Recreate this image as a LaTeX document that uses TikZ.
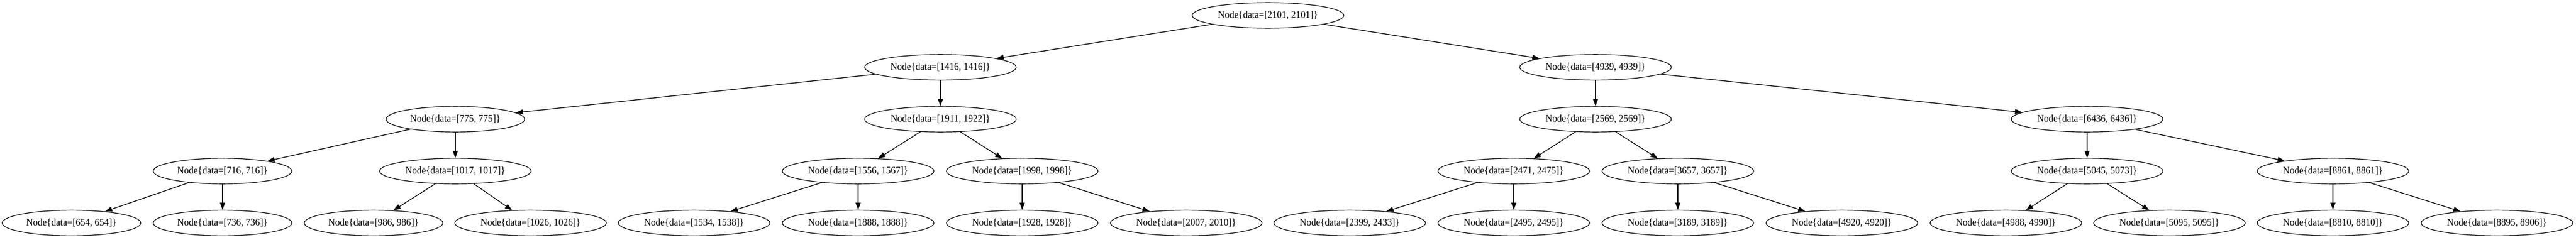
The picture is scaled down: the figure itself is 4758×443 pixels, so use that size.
\documentclass[tikz,border=0pt]{standalone}
\usepackage{fontspec}
\setmainfont{Liberation Serif}[FakeStretch=0.94]
\usetikzlibrary{shapes.geometric,arrows.meta}
\begin{document}
\begin{tikzpicture}[x=0.75pt,y=-0.75pt,
  tn/.style={ellipse,draw,line width=0.9pt,inner sep=0pt,minimum height=35.5pt,font=\fontsize{14}{16}\selectfont},
  w4/.style={tn,minimum width=210pt},
  w3/.style={tn,minimum width=192pt},
  edge/.style={line width=1pt,-{Triangle[length=10pt,width=7pt]}}]
\useasboundingbox (0,0) rectangle (4758,443);
% level 0
\node[w4] (n2101) at (2342,28.5) {Node\{data=[2101, 2101]\}};
% level 1
\node[w4] (n1416) at (1737,124.5) {Node\{data=[1416, 1416]\}};
\node[w4] (n4939) at (2947,124.5) {Node\{data=[4939, 4939]\}};
% level 2
\node[w3] (n775) at (841,220.5) {Node\{data=[775, 775]\}};
\node[w4] (n1911) at (1737,220.5) {Node\{data=[1911, 1922]\}};
\node[w4] (n2569) at (2947,220.5) {Node\{data=[2569, 2569]\}};
\node[w4] (n6436) at (3855,220.5) {Node\{data=[6436, 6436]\}};
% level 3
\node[w3] (n716) at (411,316.5) {Node\{data=[716, 716]\}};
\node[w4] (n1017) at (841,316.5) {Node\{data=[1017, 1017]\}};
\node[w4] (n1556) at (1585,316.5) {Node\{data=[1556, 1567]\}};
\node[w4] (n1998) at (1888,316.5) {Node\{data=[1998, 1998]\}};
\node[w4] (n2471) at (2796,316.5) {Node\{data=[2471, 2475]\}};
\node[w4] (n3657) at (3099,316.5) {Node\{data=[3657, 3657]\}};
\node[w4] (n5045) at (3855,316.5) {Node\{data=[5045, 5073]\}};
\node[w4] (n8861) at (4309,316.5) {Node\{data=[8861, 8861]\}};
% level 4
\node[w3] (n654) at (132,412.5) {Node\{data=[654, 654]\}};
\node[w3] (n736) at (411,412.5) {Node\{data=[736, 736]\}};
\node[w3] (n986) at (690,412.5) {Node\{data=[986, 986]\}};
\node[w4] (n1026) at (980,412.5) {Node\{data=[1026, 1026]\}};
\node[w4] (n1534) at (1282,412.5) {Node\{data=[1534, 1538]\}};
\node[w4] (n1888) at (1585,412.5) {Node\{data=[1888, 1888]\}};
\node[w4] (n1928) at (1888,412.5) {Node\{data=[1928, 1928]\}};
\node[w4] (n2007) at (2191,412.5) {Node\{data=[2007, 2010]\}};
\node[w4] (n2399) at (2493,412.5) {Node\{data=[2399, 2433]\}};
\node[w4] (n2495) at (2796,412.5) {Node\{data=[2495, 2495]\}};
\node[w4] (n3189) at (3099,412.5) {Node\{data=[3189, 3189]\}};
\node[w4] (n4920) at (3402,412.5) {Node\{data=[4920, 4920]\}};
\node[w4] (n4988) at (3705,412.5) {Node\{data=[4988, 4990]\}};
\node[w4] (n5095) at (4007,412.5) {Node\{data=[5095, 5095]\}};
\node[w4] (n8810) at (4309,412.5) {Node\{data=[8810, 8810]\}};
\node[w4] (n8895) at (4612,412.5) {Node\{data=[8895, 8906]\}};
% edges
\draw[edge] (n2101) -- (n1416);
\draw[edge] (n2101) -- (n4939);
\draw[edge] (n1416) -- (n775);
\draw[edge] (n1416) -- (n1911);
\draw[edge] (n775) -- (n716);
\draw[edge] (n775) -- (n1017);
\draw[edge] (n716) -- (n654);
\draw[edge] (n716) -- (n736);
\draw[edge] (n1017) -- (n986);
\draw[edge] (n1017) -- (n1026);
\draw[edge] (n1911) -- (n1556);
\draw[edge] (n1911) -- (n1998);
\draw[edge] (n1556) -- (n1534);
\draw[edge] (n1556) -- (n1888);
\draw[edge] (n1998) -- (n1928);
\draw[edge] (n1998) -- (n2007);
\draw[edge] (n4939) -- (n2569);
\draw[edge] (n4939) -- (n6436);
\draw[edge] (n2569) -- (n2471);
\draw[edge] (n2569) -- (n3657);
\draw[edge] (n2471) -- (n2399);
\draw[edge] (n2471) -- (n2495);
\draw[edge] (n3657) -- (n3189);
\draw[edge] (n3657) -- (n4920);
\draw[edge] (n6436) -- (n5045);
\draw[edge] (n6436) -- (n8861);
\draw[edge] (n5045) -- (n4988);
\draw[edge] (n5045) -- (n5095);
\draw[edge] (n8861) -- (n8810);
\draw[edge] (n8861) -- (n8895);
\end{tikzpicture}
\end{document}
